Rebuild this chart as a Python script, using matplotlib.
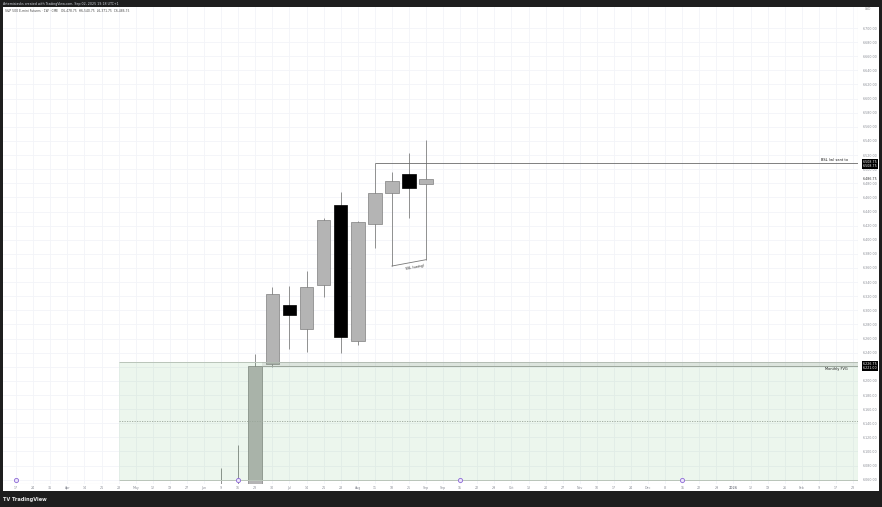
import numpy as np
import matplotlib
matplotlib.use("Agg")
import matplotlib.pyplot as plt
import matplotlib.transforms as mtransforms
from matplotlib.patches import Rectangle


# weekly ES bars, x index 0 = week of Jun 23 2025
bar_idx = [-2, -1, 0, 1, 2, 3, 4, 5, 6, 7, 8, 9, 10]
opens = [6010.0, 6000.0, 6035.0, 6223.5, 6307.5, 6273.0, 6335.5, 6449.25, 6256.0, 6422.0, 6466.75, 6492.75, 6478.75]
highs = [6076.5, 6109.0, 6238.0, 6333.5, 6335.0, 6356.0, 6431.0, 6467.5, 6427.0, 6508.75, 6495.5, 6522.5, 6540.75]
lows = [5950.0, 5960.0, 6020.0, 6220.0, 6245.25, 6240.5, 6319.25, 6240.0, 6250.75, 6388.0, 6362.75, 6430.5, 6371.75]
closes = [6000.0, 6030.0, 6221.0, 6323.0, 6293.25, 6333.0, 6428.0, 6262.5, 6425.0, 6466.25, 6483.5, 6473.25, 6486.75]

tick_idx = list(range(-14, 36))
tick_labels = ["17", "24", "31", "Apr", "14", "21", "28", "May", "12", "19", "27",
               "Jun", "9", "16", "23", "30", "Jul", "14", "21", "28", "Aug", "11",
               "18", "25", "Sep", "Sep", "15", "22", "29", "Oct", "13", "20", "27",
               "Nov", "10", "17", "24", "Dec", "8", "15", "22", "29", "2026", "12",
               "19", "26", "Feb", "9", "17", "23"]
price_ticks = list(range(6060, 6701, 20))
event_idx = [-14, -1, 12, 25]

# drawings
fvg_left = -8
fvg_top = 6226.75
fvg_inner = 6221.0
fvg_bottom = 6059.75
bsl_level = 6508.75
bsl_start = 7
ssl_points = ([8, 10], [6362.75, 6371.75])

W, H = 882, 507
fig = plt.figure(figsize=(W / 100, H / 100), dpi=100, facecolor="#1e1e1e")
fig.add_artist(Rectangle((3 / W, 1 - 491 / H), 876 / W, 484 / H, transform=fig.transFigure,
                         facecolor="white", edgecolor="none", zorder=-1))
ax = fig.add_axes([3 / W, 1 - 484 / H, 855 / W, 477 / H])
ax.set_xlim(-14.77, 35.29)
ax.set_ylim(6053.9, 6729.8)

for s in ax.spines.values():
    s.set_visible(False)
ax.axvline(35.29, color="#e0e3eb", lw=0.8, zorder=1)
ax.axhline(6053.9, color="#e0e3eb", lw=0.8, zorder=1)

ax.set_xticks(tick_idx)
ax.set_xticklabels(tick_labels)
for lab in ax.get_xticklabels():
    if lab.get_text() == "2026":
        lab.set_fontweight("bold")
ax.set_yticks(price_ticks)
# the 6,220 label sits under the FVG price box on the scale
ax.set_yticklabels(["" if p == 6220 else f"{p:,.2f}" for p in price_ticks])
ax.yaxis.tick_right()
ax.tick_params(axis="x", length=0, pad=1.2, labelsize=2.3, labelcolor="#8a8d96")
ax.tick_params(axis="y", length=0, pad=3.6, labelsize=2.3, labelcolor="#8a8d96")
for lab in ax.get_yticklabels():
    lab.set_horizontalalignment("left")
ax.grid(True, color="#f2f4f8", lw=0.6, zorder=0)
ax.set_axisbelow(True)

# candles
for i, o, h, l, c in zip(bar_idx, opens, highs, lows, closes):
    up = c >= o
    ax.vlines(i, l, h, color="#808080", lw=0.6, zorder=2)
    ax.add_patch(Rectangle((i - 0.4, min(o, c)), 0.8, abs(c - o),
                           facecolor="#b4b4b4" if up else "#000000",
                           edgecolor="#7f7f7f" if up else "#000000", lw=0.5, zorder=3))

# monthly FVG
ax.add_patch(Rectangle((fvg_left, fvg_bottom), 50 - fvg_left, fvg_top - fvg_bottom,
                       facecolor="#4caf50", alpha=0.1, edgecolor="none", zorder=4))
ax.hlines([fvg_top, fvg_bottom], fvg_left, 36, color="#b9c4b9", lw=0.7, zorder=4)
ax.hlines(fvg_inner, 0.4, 36, color="#9aa59a", lw=0.7, zorder=4)
ax.add_patch(Rectangle((0.4, fvg_inner), 36, fvg_top - fvg_inner,
                       facecolor="#9e9e9e", alpha=0.2, edgecolor="none", zorder=4))
ax.hlines((fvg_top + fvg_bottom) / 2, fvg_left, 36, color="#9aa59a", lw=0.6,
          linestyles=(0, (1.5, 1.5)), zorder=4)
ax.text(34.7, fvg_inner - 2, "Monthly FVG", ha="right", va="top", fontsize=2.5, color="#111", zorder=5)

# BSL line
ax.hlines(bsl_level, bsl_start, 36, color="#6b6b6b", lw=0.6, zorder=5)
ax.text(34.7, bsl_level + 2, "BSL (w) sent to", ha="right", va="bottom", fontsize=2.5,
        color="#111", zorder=5)

# SSL swing line
ax.plot(ssl_points[0], ssl_points[1], color="#777", lw=0.6, zorder=5)
p0 = ax.transData.transform((ssl_points[0][0], ssl_points[1][0]))
p1 = ax.transData.transform((ssl_points[0][1], ssl_points[1][1]))
ang = np.degrees(np.arctan2(p1[1] - p0[1], p1[0] - p0[0]))
ax.text(9.3, (ssl_points[1][0] + ssl_points[1][1]) / 2 - 3, "SSL (swing)", rotation=ang,
        rotation_mode="anchor", ha="center", va="top", fontsize=2.3, color="#222", zorder=5)

# event markers along the time scale
blend = mtransforms.blended_transform_factory(ax.transData, ax.transAxes)
ax.scatter(event_idx, [0.009] * len(event_idx), s=9, marker="o", facecolor="#ece4fb",
           edgecolor="#8d6ad6", lw=0.6, transform=blend, zorder=6, clip_on=False)

# price scale labels
def price_box(y, lines, bg="black", fg="white"):
    ax.annotate("\n".join(lines), xy=(1, y), xycoords=("axes fraction", "data"),
                xytext=(3.4, 0), textcoords="offset points", ha="left", va="center",
                fontsize=2.3, color=fg, linespacing=1.0, annotation_clip=False,
                bbox=dict(boxstyle="square,pad=0.25", fc=bg, ec="none"), zorder=7)

price_box(bsl_level - 1, ["6,508.75", "6,508.75"])
price_box(fvg_inner, ["6,226.75", "6,221.00"])
ax.annotate(f"{closes[-1]:,.2f}", xy=(1, closes[-1]), xycoords=("axes fraction", "data"),
            xytext=(3.6, 0), textcoords="offset points", ha="left", va="center",
            fontsize=2.3, color="#333", annotation_clip=False)

# header / footer
fig.text(3 / W, 1 - 3.6 / H, "Artemisiasks created with TradingView.com, Sep 02, 2025 19:18 UTC+1",
         fontsize=2.3, color="#d1d4dc", va="center")
fig.text(5 / W, 1 - 11 / H,
         f"S&P 500 E-mini Futures · 1W · CME   O{opens[-1]:,.2f}  H{highs[-1]:,.2f}  "
         f"L{lows[-1]:,.2f}  C{closes[-1]:,.2f}",
         fontsize=2.2, color="#444", va="center")
fig.text(868 / W, 1 - 9.5 / H, "USD", fontsize=2.2, color="#888", ha="center", va="center")
fig.text(3 / W, 1 - 499 / H, "TV TradingView", fontsize=3.6, color="#e8e8e8",
         fontweight="bold", va="center")

fig.savefig("out.png", dpi=100, facecolor=fig.get_facecolor())
